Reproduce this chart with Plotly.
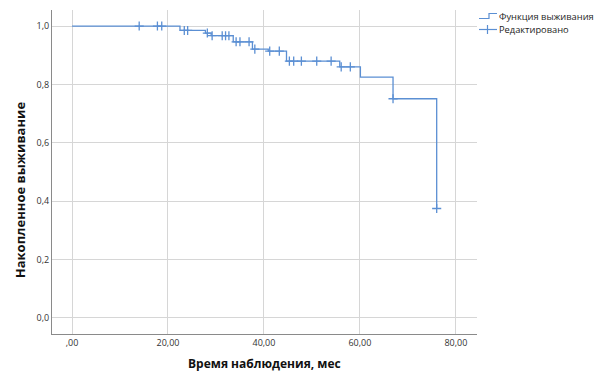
import plotly.graph_objects as go

# Kaplan-Meier step function (time, cumulative survival after event)
event_times = [0, 22.5, 27.8, 29.0, 33.6, 37.6, 40.9, 44.7, 55.8, 60.1, 66.9, 76.0]
event_surv = [1.0, 0.985, 0.976, 0.967, 0.946, 0.921, 0.914, 0.880, 0.860, 0.825, 0.751, 0.375]

# Censored observations
cens_times = [14.0, 17.8, 18.7, 23.4, 24.1, 28.2, 29.2, 31.3, 32.0, 32.7, 34.2, 35.0, 36.9,
              38.1, 41.2, 43.2, 45.3, 46.2, 47.8, 51.0, 54.0, 56.1, 58.0, 66.9, 76.0]
cens_surv = [1.0, 1.0, 1.0, 0.985, 0.985, 0.976, 0.967, 0.967, 0.967, 0.967, 0.946, 0.946, 0.946,
             0.921, 0.914, 0.914, 0.880, 0.880, 0.880, 0.880, 0.880, 0.860, 0.860, 0.751, 0.375]

x_tickvals = [0, 20, 40, 60, 80]
x_ticktext = [",00", "20,00", "40,00", "60,00", "80,00"]
y_tickvals = [0, 0.2, 0.4, 0.6, 0.8, 1.0]
y_ticktext = ["0,0", "0,2", "0,4", "0,6", "0,8", "1,0"]

legend_names = ["Функция выживания", "Редактировано"]
x_title = "Время наблюдения, мес"
y_title = "Накопленное выживание"

BLUE = "#5b8fd3"
FONT = "Open Sans"

fig = go.Figure()
fig.add_trace(go.Scatter(x=event_times, y=event_surv, mode="lines", line_shape="hv",
                         line=dict(color=BLUE, width=1.3), name=legend_names[0],
                         showlegend=False, hoverinfo="skip"))
fig.add_trace(go.Scatter(x=cens_times, y=cens_surv, mode="markers",
                         marker=dict(symbol="cross-thin", size=6.5, color=BLUE,
                                     line=dict(color=BLUE, width=1.3)),
                         name=legend_names[1], showlegend=False, hoverinfo="skip"))

axis_common = dict(showgrid=True, gridcolor="#d6d6d6", gridwidth=1, zeroline=False,
                   showline=True, linecolor="#8a8a8a", linewidth=1, ticks="",
                   tickfont=dict(family=FONT, size=9, color="#333333"))

fig.update_xaxes(range=[-4.17, 84.4], tickvals=x_tickvals, ticktext=x_ticktext, **axis_common)
fig.update_yaxes(range=[-0.055, 1.055], tickvals=y_tickvals, ticktext=y_ticktext, **axis_common)


def px(x):
    return (x - 52) / 425


def py(y):
    return (334 - y) / 324


annotations = [
    dict(text=f"<b>{x_title}</b>", xref="paper", yref="paper", x=0.5, y=-0.09,
         xanchor="center", yanchor="middle", showarrow=False,
         font=dict(family=FONT, size=12, color="#111111")),
    dict(text=f"<b>{y_title}</b>", xref="paper", yref="paper", x=-0.075, y=0.444,
         xanchor="center", yanchor="middle", textangle=-90, showarrow=False,
         font=dict(family=FONT, size=13, color="#111111")),
    # Legend text (annotations to match the compact spacing)
    dict(text=legend_names[0], xref="paper", yref="paper", x=px(498), y=py(16.5),
         xanchor="left", yanchor="middle", showarrow=False,
         font=dict(family=FONT, size=9.3, color="#222222"), borderpad=0),
    dict(text=legend_names[1], xref="paper", yref="paper", x=px(498), y=py(29.5),
         xanchor="left", yanchor="middle", showarrow=False,
         font=dict(family=FONT, size=9.3, color="#222222"), borderpad=0),
]

shapes = [
    # step-shaped legend symbol
    dict(type="path", xref="paper", yref="paper",
         path=f"M {px(479)} {py(18.5)} L {px(489)} {py(18.5)} L {px(489)} {py(13.5)} L {px(497)} {py(13.5)}",
         line=dict(color=BLUE, width=1.2)),
    # censor legend symbol
    dict(type="line", xref="paper", yref="paper", x0=px(479), x1=px(497), y0=py(29.5), y1=py(29.5),
         line=dict(color=BLUE, width=1.2)),
    dict(type="line", xref="paper", yref="paper", x0=px(487.5), x1=px(487.5), y0=py(25), y1=py(34),
         line=dict(color=BLUE, width=1.2)),
]

fig.update_layout(width=596, height=373, margin=dict(l=52, r=119, t=10, b=39),
                  paper_bgcolor="white", plot_bgcolor="white",
                  annotations=annotations, shapes=shapes, showlegend=False)

fig.write_html("out.html")
